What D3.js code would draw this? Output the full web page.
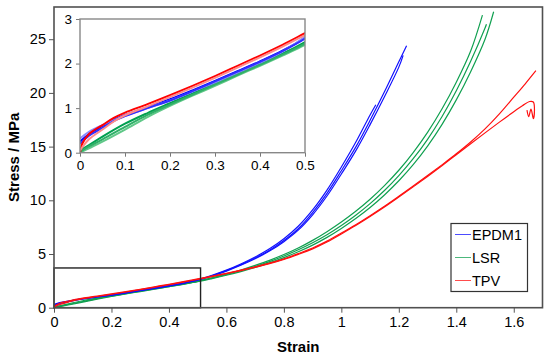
<!DOCTYPE html>
<html><head><meta charset="utf-8">
<script src="https://cdn.jsdelivr.net/npm/d3@7"></script>
<style>
html,body{margin:0;padding:0;background:#fff;}
svg{display:block;font-family:"Liberation Sans",Arial,sans-serif;}
</style></head>
<body><svg id="chart" width="550" height="357"></svg>
<script>
// ---------- data: [strain, stress (MPa)] per replicate ----------
const epdm1A = [[0,0.25],[0.02,0.42],[0.05,0.6],[0.075,0.74],[0.1,0.85],[0.15,1.02],[0.2,1.2],[0.25,1.4],[0.3,1.61],[0.35,1.83],[0.4,2.05],[0.45,2.29],[0.5,2.58],[0.55,2.98],[0.6,3.45],[0.65,4.0],[0.7,4.62],[0.75,5.35],[0.8,6.25],[0.85,7.35],[0.9,8.85],[0.95,10.65],[1.0,12.75],[1.05,14.95],[1.1,17.45],[1.15,20.1],[1.2,22.9],[1.227,24.4]];
const epdm1B = [[0,0.32],[0.02,0.47],[0.05,0.62],[0.075,0.73],[0.1,0.83],[0.15,1.0],[0.2,1.17],[0.25,1.37],[0.3,1.58],[0.35,1.8],[0.4,2.02],[0.45,2.27],[0.5,2.6],[0.55,3.02],[0.6,3.5],[0.65,4.07],[0.7,4.72],[0.75,5.48],[0.8,6.42],[0.85,7.58],[0.9,9.1],[0.95,10.95],[1.0,13.1],[1.05,15.4],[1.1,17.95],[1.12,18.9]];
const epdm1C = [[0,0.2],[0.02,0.38],[0.05,0.56],[0.075,0.71],[0.1,0.82],[0.15,1.0],[0.2,1.17],[0.25,1.38],[0.3,1.6],[0.35,1.82],[0.4,2.04],[0.45,2.28],[0.5,2.56],[0.55,2.95],[0.6,3.41],[0.65,3.95],[0.7,4.56],[0.75,5.27],[0.8,6.15],[0.85,7.22],[0.9,8.65],[0.95,10.4],[1.0,12.45],[1.05,14.6],[1.1,17.05],[1.15,19.65],[1.2,22.4],[1.215,23.5]];

const lsrA = [[0,0.05],[0.02,0.17],[0.05,0.36],[0.1,0.65],[0.15,0.89],[0.2,1.11],[0.25,1.33],[0.3,1.56],[0.35,1.78],[0.4,2.0],[0.45,2.22],[0.5,2.48],[0.55,2.79],[0.6,3.13],[0.65,3.51],[0.7,3.94],[0.75,4.41],[0.8,4.95],[0.85,5.56],[0.9,6.27],[0.95,7.08],[1.0,7.98],[1.05,8.98],[1.1,10.1],[1.15,11.37],[1.2,12.8],[1.25,14.45],[1.3,16.33],[1.35,18.5],[1.4,21.0],[1.45,23.9],[1.491,27.25]];
const lsrB = [[0,0.0],[0.02,0.1],[0.05,0.25],[0.1,0.52],[0.15,0.8],[0.2,1.05],[0.25,1.28],[0.3,1.5],[0.35,1.73],[0.4,1.95],[0.45,2.18],[0.5,2.42],[0.55,2.71],[0.6,3.02],[0.65,3.36],[0.7,3.74],[0.75,4.17],[0.8,4.66],[0.85,5.21],[0.9,5.83],[0.95,6.55],[1.0,7.38],[1.05,8.3],[1.1,9.33],[1.15,10.5],[1.2,11.82],[1.25,13.32],[1.3,15.05],[1.35,17.05],[1.4,19.35],[1.45,21.98],[1.5,25.0],[1.53,27.56]];
const lsrC = [[0,0.02],[0.02,0.14],[0.05,0.3],[0.1,0.58],[0.15,0.85],[0.2,1.08],[0.25,1.3],[0.3,1.53],[0.35,1.75],[0.4,1.97],[0.45,2.2],[0.5,2.45],[0.55,2.75],[0.6,3.08],[0.65,3.44],[0.7,3.84],[0.75,4.29],[0.8,4.81],[0.85,5.39],[0.9,6.04],[0.95,6.79],[1.0,7.65],[1.05,8.61],[1.1,9.69],[1.15,10.91],[1.2,12.3],[1.25,13.87],[1.3,15.68],[1.35,17.78],[1.4,20.2],[1.45,22.95],[1.5,26.05],[1.505,26.4]];

const tpvA = [[0,0.0],[0.005,0.2],[0.02,0.42],[0.05,0.62],[0.075,0.78],[0.1,0.9],[0.15,1.09],[0.2,1.29],[0.25,1.5],[0.3,1.72],[0.35,1.95],[0.4,2.18],[0.45,2.42],[0.5,2.68],[0.55,2.94],[0.6,3.21],[0.65,3.5],[0.7,3.81],[0.75,4.15],[0.8,4.55],[0.85,5.03],[0.9,5.56],[0.95,6.2],[1.0,6.95],[1.05,7.73],[1.1,8.57],[1.15,9.45],[1.2,10.38],[1.25,11.33],[1.3,12.3],[1.35,13.3],[1.4,14.33],[1.45,15.43],[1.5,16.65],[1.55,18.05],[1.6,19.6],[1.64,20.85],[1.677,22.07]];
const tpvB = [[0,0.05],[0.02,0.3],[0.05,0.52],[0.075,0.7],[0.1,0.84],[0.15,1.04],[0.2,1.25],[0.25,1.46],[0.3,1.68],[0.35,1.91],[0.4,2.14],[0.45,2.38],[0.5,2.64],[0.55,2.9],[0.6,3.17],[0.65,3.46],[0.7,3.76],[0.75,4.1],[0.8,4.49],[0.85,4.96],[0.9,5.48],[0.95,6.12],[1.0,6.87],[1.05,7.65],[1.1,8.49],[1.15,9.37],[1.2,10.3],[1.25,11.25],[1.3,12.22],[1.35,13.22],[1.4,14.25],[1.45,15.27],[1.5,16.28],[1.55,17.28],[1.6,18.25],[1.63,18.8],[1.655,19.2],[1.668,19.15],[1.672,18.4],[1.668,17.6],[1.66,18.5],[1.652,17.8],[1.646,18.4]];

const seriesNames = ["EPDM1", "LSR", "TPV"];
const seriesColors = ["#1010ff", "#10a050", "#ff1010"];
const seriesReplicates = [[epdm1A, epdm1B, epdm1C], [lsrA, lsrB, lsrC], [tpvA, tpvB]];
const replicateColors = [["#0000ff", "#8a8aff", "#3030ff"], ["#00a050", "#60c888", "#30b068"], ["#ff0000", "#ff8a8a"]];
const drawOrder = [1, 0, 2];

const mainXTicks = [0, 0.2, 0.4, 0.6, 0.8, 1, 1.2, 1.4, 1.6];
const mainYTicks = [0, 5, 10, 15, 20, 25];
const insetXTicks = [0, 0.1, 0.2, 0.3, 0.4, 0.5];
const insetYTicks = [0, 1, 2, 3];
const zoomBox = [0.51, 3.7]; // strain, stress extent of the zoomed region
const xLabel = "Strain", yLabel = "Stress / MPa";

// ---------- layout ----------
const svg = d3.select("#chart");
const fmt = d => String(+d.toFixed(1));
const x = d3.scaleLinear().domain([0, 1.7]).range([54, 542.5]);
const y = d3.scaleLinear().domain([0, 28]).range([307.7, 7]);
const xi = d3.scaleLinear().domain([0, 0.5]).range([80, 305]);
const yi = d3.scaleLinear().domain([0, 3]).range([152.7, 19]);

const defs = svg.append("defs");
defs.append("clipPath").attr("id", "clipMain").append("rect")
  .attr("x", x(0)).attr("y", y(28)).attr("width", x(1.7) - x(0)).attr("height", y(0) - y(28));
defs.append("clipPath").attr("id", "clipInset").append("rect")
  .attr("x", xi(0)).attr("y", yi(3)).attr("width", xi(0.5) - xi(0)).attr("height", yi(0) - yi(3));

// main axes
const gx = svg.append("g").attr("transform", `translate(0,${y(0)})`)
  .call(d3.axisBottom(x).tickValues(mainXTicks).tickFormat(fmt).tickSizeInner(5).tickSizeOuter(0).tickPadding(4));
const gy = svg.append("g").attr("transform", `translate(${x(0)},0)`)
  .call(d3.axisLeft(y).tickValues(mainYTicks).tickFormat(fmt).tickSizeInner(5).tickSizeOuter(0).tickPadding(3));
[gx, gy].forEach(g => {
  g.select(".domain").remove();
  g.selectAll(".tick line").attr("stroke", "#555");
  g.selectAll(".tick text").attr("fill", "#000").style("font-size", "14.5px").style("font-family", "Liberation Sans, Arial, sans-serif");
});

// main curves
const lineMain = d3.line().x(d => x(d[0])).y(d => y(d[1])).curve(d3.curveCatmullRom.alpha(0.5));
const gMain = svg.append("g").attr("clip-path", "url(#clipMain)");
drawOrder.forEach(s => {
  seriesReplicates[s].forEach(rep => {
    gMain.append("path").datum(rep).attr("d", lineMain)
      .attr("fill", "none").attr("stroke", seriesColors[s]).attr("stroke-width", 1.2);
  });
});

// zoom rectangle
svg.append("rect").attr("x", x(0)).attr("y", y(zoomBox[1]))
  .attr("width", x(zoomBox[0]) - x(0)).attr("height", y(0) - y(zoomBox[1]))
  .attr("fill", "none").attr("stroke", "#222").attr("stroke-width", 1.4);

// main frame
svg.append("rect").attr("x", x(0)).attr("y", y(28))
  .attr("width", x(1.7) - x(0)).attr("height", y(0) - y(28))
  .attr("fill", "none").attr("stroke", "#505050").attr("stroke-width", 1.6);

// inset
svg.append("rect").attr("x", xi(0)).attr("y", yi(3))
  .attr("width", xi(0.5) - xi(0)).attr("height", yi(0) - yi(3)).attr("fill", "#fff");
const lineInset = d3.line().x(d => xi(d[0])).y(d => yi(d[1])).curve(d3.curveCatmullRom.alpha(0.5));
const gIn = svg.append("g").attr("clip-path", "url(#clipInset)");
drawOrder.forEach(s => {
  seriesReplicates[s].forEach((rep, i) => {
    gIn.append("path").datum(rep).attr("d", lineInset)
      .attr("fill", "none").attr("stroke", replicateColors[s][i]).attr("stroke-width", 2);
  });
});
const gxi = svg.append("g").attr("transform", `translate(0,${yi(0)})`)
  .call(d3.axisBottom(xi).tickValues(insetXTicks).tickFormat(fmt).tickSizeInner(4).tickSizeOuter(0).tickPadding(4));
const gyi = svg.append("g").attr("transform", `translate(${xi(0)},0)`)
  .call(d3.axisLeft(yi).tickValues(insetYTicks).tickFormat(fmt).tickSizeInner(4).tickSizeOuter(0).tickPadding(4));
[gxi, gyi].forEach(g => {
  g.select(".domain").remove();
  g.selectAll(".tick line").attr("stroke", "#777");
  g.selectAll(".tick text").attr("fill", "#000").style("font-size", "13.5px").style("font-family", "Liberation Sans, Arial, sans-serif");
});
svg.append("rect").attr("x", xi(0)).attr("y", yi(3))
  .attr("width", xi(0.5) - xi(0)).attr("height", yi(0) - yi(3))
  .attr("fill", "none").attr("stroke", "#888").attr("stroke-width", 1.4);

// axis titles
svg.append("text").attr("x", (x(0) + x(1.7)) / 2).attr("y", 351.5)
  .attr("text-anchor", "middle").style("font-weight", "bold").style("font-size", "15px").text(xLabel);
svg.append("text").attr("transform", `translate(19,${(y(0) + y(28)) / 2}) rotate(-90)`)
  .attr("text-anchor", "middle").style("font-weight", "bold").style("font-size", "15px").text(yLabel);

// legend
const lg = svg.append("g");
lg.append("rect").attr("x", 451).attr("y", 223.5).attr("width", 76.5).attr("height", 68)
  .attr("fill", "#fff").attr("stroke", "#333").attr("stroke-width", 1.2);
seriesNames.forEach((n, i) => {
  const yy = 234.5 + i * 23;
  lg.append("line").attr("x1", 455).attr("x2", 471).attr("y1", yy).attr("y2", yy)
    .attr("stroke", seriesColors[i]).attr("stroke-width", 1).attr("stroke-opacity", 0.75);
  lg.append("text").attr("x", 472).attr("y", yy).attr("dy", "0.36em")
    .style("font-size", "14.5px").text(n);
});
</script></body></html>
